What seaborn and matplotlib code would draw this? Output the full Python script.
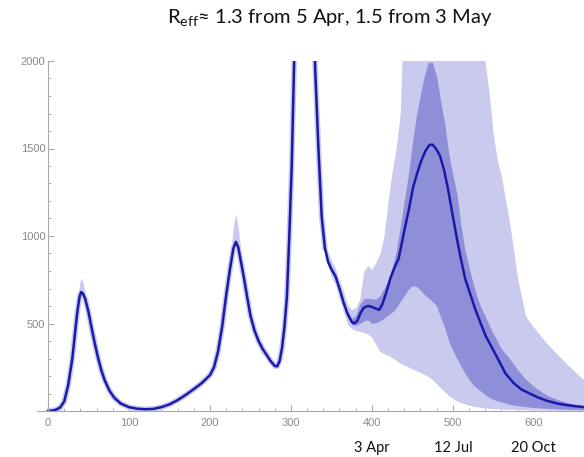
import numpy as np
import matplotlib
matplotlib.use("Agg")
import matplotlib.pyplot as plt
import matplotlib.transforms as mtransforms
from matplotlib.ticker import MultipleLocator, FixedLocator
import seaborn as sns

# central estimate (days since start, daily value)
line_day = [0, 5, 10, 15, 20, 25, 30, 33, 36, 39, 41, 43, 46, 50, 54, 58, 62, 66, 70, 76, 82, 90,
            100, 110, 120, 130, 140, 150, 160, 170, 180, 190, 200, 205, 210, 215, 220, 225, 229, 232,
            235, 238, 242, 246, 250, 255, 260, 265, 270, 275, 280, 283, 286, 289, 292, 295, 298, 301,
            304, 308, 313, 317, 321, 326, 330, 334, 338, 342, 346, 350, 355, 360, 365, 370, 375, 378,
            382, 386, 390, 395, 400, 405, 409, 413, 418, 423, 428, 433, 437, 441, 446, 451, 456, 461,
            466, 471, 475, 479, 484, 489, 494, 499, 504, 509, 515, 521, 527, 534, 541, 548, 556, 565,
            575, 585, 595, 605, 615, 628, 640, 650, 665]
line_val = [0, 2, 8, 20, 55, 150, 300, 430, 560, 655, 680, 672, 640, 565, 470, 380, 300, 230, 175, 115, 75, 42,
            22, 13, 10, 12, 22, 38, 62, 92, 125, 160, 205, 250, 340, 480, 660, 820, 930, 967,
            935, 860, 760, 650, 545, 460, 400, 355, 320, 285, 258, 255, 285, 360, 480, 650, 1000, 1400,
            2000, 2900, 3500, 3650, 3450, 2700, 1950, 1500, 1110, 930, 850, 810, 770, 700, 620, 555, 510, 500,
            515, 560, 590, 600, 595, 585, 578, 610, 680, 760, 820, 870, 960, 1050, 1160, 1280, 1360, 1430,
            1485, 1520, 1522, 1500, 1460, 1380, 1270, 1140, 1010, 890, 760, 675, 590, 505, 425, 365, 295, 215,
            160, 122, 100, 78, 60, 44, 34, 28, 21]

# uncertainty bands after the big peak
band_day = [336, 340, 345, 350, 355, 360, 365, 370, 375, 380, 385, 390, 395, 400, 405, 410, 415,
            420, 425, 430, 435, 440, 445, 450, 455, 460, 465, 470, 475, 480, 485, 490, 495, 500, 505,
            510, 515, 520, 525, 530, 535, 540, 545, 550, 555, 560, 570, 580, 590, 600, 610, 620, 630,
            640, 650, 660, 665]
outer_hi = [1360, 1070, 920, 860, 815, 750, 680, 610, 580, 590, 640, 800, 830, 810, 850, 900, 1000,
            1200, 1370, 1500, 1700, 2400, 2400, 2400, 2400, 2400, 2400, 2400, 2400, 2400, 2400, 2400, 2400, 2400, 2400,
            2400, 2400, 2400, 2400, 2400, 2400, 1990, 1810, 1580, 1430, 1340, 1080, 760, 540, 478, 420, 367, 320,
            272, 228, 185, 170]
outer_lo = [1250, 975, 840, 770, 720, 640, 565, 495, 470, 460, 455, 448, 440, 420, 380, 340, 328,
            318, 305, 290, 272, 262, 252, 240, 230, 220, 208, 196, 178, 155, 132, 110, 88, 72, 58,
            48, 40, 33, 28, 24, 21, 18, 16, 14, 13, 12, 10, 8, 7, 6, 5, 5, 4,
            4, 3, 3, 3]
inner_hi = [1320, 1040, 885, 825, 782, 712, 635, 570, 530, 545, 610, 640, 645, 640, 640, 660, 700,
            750, 820, 910, 1050, 1200, 1350, 1530, 1690, 1810, 1920, 1995, 1990, 1910, 1770, 1640, 1470, 1350, 1240,
            1060, 920, 820, 730, 650, 590, 540, 490, 440, 400, 355, 300, 235, 182, 140, 108, 82, 64,
            50, 40, 32, 30]
inner_lo = [1280, 1000, 855, 795, 755, 685, 605, 540, 495, 490, 500, 515, 520, 500, 505, 515, 530,
            548, 565, 590, 625, 660, 695, 715, 712, 690, 665, 645, 625, 600, 535, 475, 400, 345, 300,
            258, 215, 180, 150, 130, 112, 92, 76, 66, 58, 52, 38, 30, 25, 20, 17, 15, 12,
            10, 9, 8, 8]

# small spread seen above the first two peaks
p1_day = [33, 36, 39, 41, 43, 46, 50]
p1_hi = [460, 610, 730, 760, 740, 670, 580]
p1_lo = [400, 530, 630, 660, 650, 615, 545]
p2_day = [222, 226, 229, 232, 235, 238, 242]
p2_hi = [760, 920, 1060, 1125, 1050, 920, 780]
p2_lo = [690, 830, 920, 950, 920, 850, 740]

x_ticks = [0, 100, 200, 300, 400, 500, 600]
y_ticks = [500, 1000, 1500, 2000]
date_pos = [400, 500, 600]
date_labels = ["3 Apr", "12 Jul", "20 Oct"]

sns.set_style("ticks")
plt.rcParams["font.family"] = ["Liberation Sans", "DejaVu Sans"]
plt.rcParams["mathtext.fontset"] = "custom"
plt.rcParams["mathtext.rm"] = "Lato"

light = "#cacaee"
dark = "#8e8ed9"
navy = "#1a1aa8"
grey = "#a8a8a8"

fig = plt.figure(figsize=(5.84, 4.57), dpi=100)
ax = fig.add_axes([36.7 / 584, 46 / 457, (584 - 36.7) / 584, 350 / 457])

ax.fill_between(band_day, outer_lo, outer_hi, color=light, lw=0)
ax.fill_between(band_day, inner_lo, inner_hi, color=dark, lw=0)
ax.fill_between(p1_day, p1_lo, p1_hi, color=light, lw=0)
ax.fill_between(p2_day, p2_lo, p2_hi, color=light, lw=0)
early = [i for i, d in enumerate(line_day) if d <= 342]
ax.plot([line_day[i] for i in early], [line_val[i] for i in early], color=light, lw=4,
        solid_capstyle="round")
sns.lineplot(x=line_day, y=line_val, ax=ax, color=navy, lw=1.8, estimator=None, sort=False)

ax.set_xlim(-14, 662)
ax.set_ylim(0, 2000)
ax.set_xlabel("")
ax.set_ylabel("")
sns.despine(ax=ax)
ax.spines["left"].set_position(("data", 0))
for s in ["left", "bottom"]:
    ax.spines[s].set_color(grey)
    ax.spines[s].set_linewidth(0.8)

ax.xaxis.set_major_locator(FixedLocator(x_ticks))
ax.xaxis.set_minor_locator(MultipleLocator(20))
ax.yaxis.set_major_locator(FixedLocator([0] + y_ticks))
ax.yaxis.set_minor_locator(MultipleLocator(100))
ax.set_xticklabels([str(t) for t in x_ticks])
ax.set_yticklabels([""] + [str(t) for t in y_ticks])
ax.tick_params(which="both", direction="in", color=grey, labelcolor="#8a8a8a", labelsize=8)
ax.tick_params(which="major", length=4, width=0.8)
ax.tick_params(which="minor", length=2.2, width=0.6)
ax.tick_params(axis="x", pad=5)
ax.tick_params(axis="y", pad=2)

trans = mtransforms.blended_transform_factory(ax.transData, ax.transAxes)
for d, lab in zip(date_pos, date_labels):
    ax.text(d, -0.107, lab, transform=trans, ha="center", va="center", fontsize=10.5,
            family="Lato", color="#111111")

fig.text(330 / 584, 1 - 18 / 457, r"R$_{\mathrm{eff}}$≈ 1.3 from 5 Apr, 1.5 from 3 May",
         ha="center", va="center", fontsize=14.5, family="Lato", color="#111111")

plt.savefig("out.png", dpi=100)
